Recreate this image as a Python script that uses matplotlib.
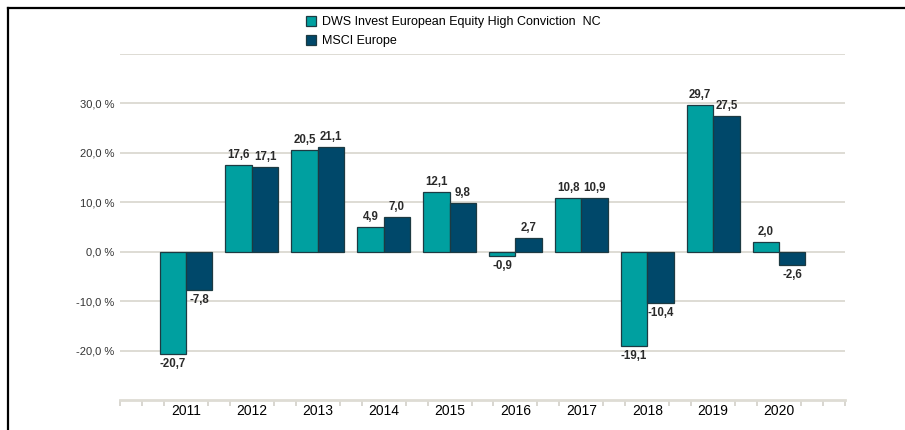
import matplotlib
matplotlib.use("Agg")
import matplotlib.pyplot as plt
import numpy as np
from matplotlib.patches import Patch
from matplotlib.lines import Line2D

plt.rcParams['font.family'] = ['Liberation Sans', 'DejaVu Sans']

years = ["2011", "2012", "2013", "2014", "2015", "2016", "2017", "2018", "2019", "2020"]
fund = [-20.7, 17.6, 20.5, 4.9, 12.1, -0.9, 10.8, -19.1, 29.7, 2.0]
index = [-7.8, 17.1, 21.1, 7.0, 9.8, 2.7, 10.9, -10.4, 27.5, -2.6]
series_names = ["DWS Invest European Equity High Conviction  NC", "MSCI Europe"]
yticks = [-20, -10, 0, 10, 20, 30]

c_fund = "#00a0a0"
c_index = "#00486a"
edge = "#1d3a42"
grid_c = "#dedcd4"

fig = plt.figure(figsize=(9.05, 4.3), dpi=100)
ax = fig.add_axes([120/905, 1-400/430, 725/905, 346/430])

x = np.arange(len(years))
w = 0.4
b1 = ax.bar(x - w/2, fund, w, color=c_fund, edgecolor=edge, linewidth=0.9, zorder=3)
b2 = ax.bar(x + w/2, index, w, color=c_index, edgecolor=edge, linewidth=0.9, zorder=3)

def fmt(v):
    return f"{v:.1f}".replace(".", ",")

for bars, vals in ((b1, fund), (b2, index)):
    for r, v in zip(bars, vals):
        cx = r.get_x() + r.get_width()/2
        if v >= 0:
            ax.annotate(fmt(v), (cx, v), xytext=(0, 3), textcoords="offset points",
                        ha="center", va="bottom", fontsize=8.3, fontweight="bold",
                        color="#2a2a2a", zorder=4)
        else:
            ax.annotate(fmt(v), (cx, v), xytext=(0, -3), textcoords="offset points",
                        ha="center", va="top", fontsize=8.3, fontweight="bold",
                        color="#2a2a2a", zorder=4)

ax.set_xlim(-1, 10)
ax.set_ylim(-30, 40)

for g in yticks + [40]:
    ax.axhline(g, color=grid_c, linewidth=1.4, zorder=1)

ax.set_yticks(yticks)
ax.set_yticklabels([f"{t:.1f}".replace(".", ",") + " %" for t in yticks], fontsize=8, color="#333333")
ax.tick_params(axis="y", length=0, pad=4)

ax.set_xticks(x)
ax.set_xticklabels(years, fontsize=8, color="#333333")
ax.tick_params(axis="x", which="major", length=0, pad=3)
minor = [v for v in np.arange(-1, 10.001, 1/3) if abs(v - round(v)) > 1e-6 or round(v) in (-1, 10)]
ax.set_xticks(minor, minor=True)
ax.tick_params(axis="x", which="minor", length=4, color="#d2d0c8", width=1.2, direction="out")

for s in ("top", "right", "left"):
    ax.spines[s].set_visible(False)
ax.spines["bottom"].set_color("#dedcd4")
ax.spines["bottom"].set_linewidth(2)
ax.spines["bottom"].set_position(("data", -30))

handles = [Patch(facecolor=c_fund, edgecolor=edge, linewidth=0.9),
           Patch(facecolor=c_index, edgecolor=edge, linewidth=0.9)]
fig.legend(handles, series_names, loc="upper left", bbox_to_anchor=(296/905, 1-6/430),
           frameon=False, fontsize=9, handlelength=0.8, handleheight=0.8,
           handletextpad=0.45, labelspacing=0.55, borderpad=0.3)

fig.add_artist(Line2D([8/905, 1], [1-8/430, 1-8/430], color="black", linewidth=1.6, transform=fig.transFigure))
fig.add_artist(Line2D([8/905, 8/905], [0, 1-8/430], color="black", linewidth=1.6, transform=fig.transFigure))

fig.savefig("out.png", dpi=100)
